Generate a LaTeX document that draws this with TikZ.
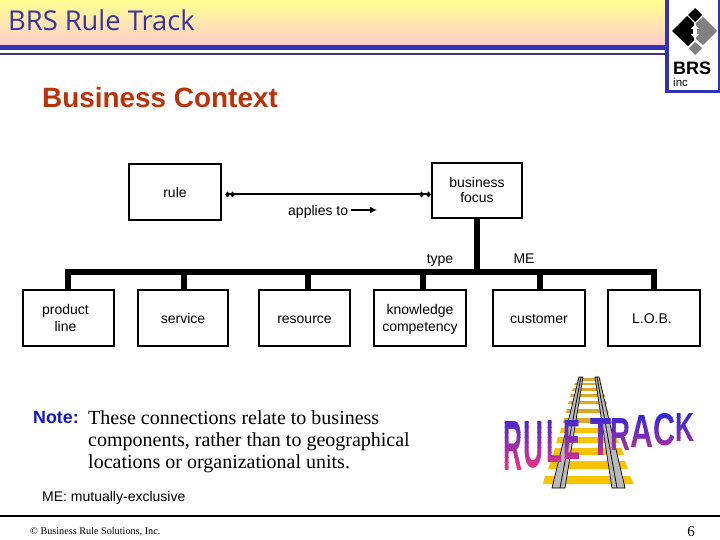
\documentclass[tikz,border=0pt]{standalone}
\usepackage{fontspec}
\usepackage{graphicx}
\setmainfont{Liberation Sans}
\newfontfamily\serifface{Liberation Serif}
\newfontfamily\titleface{Open Sans}
\usetikzlibrary{arrows.meta}
\definecolor{hdrblue}{RGB}{50,50,185}
\definecolor{hdrdark}{RGB}{60,50,140}
\definecolor{titleblue}{RGB}{60,50,160}
\definecolor{ctxred}{RGB}{190,50,10}
\definecolor{noteblue}{RGB}{20,20,200}
\definecolor{sleeperA}{RGB}{250,195,0}
\definecolor{sleeperB}{RGB}{215,170,40}
\definecolor{railgray}{RGB}{185,185,185}
\definecolor{logogray}{RGB}{128,128,128}
\definecolor{waTop}{RGB}{50,40,215}
\definecolor{waBot}{RGB}{240,50,130}
\newcommand{\ls}{\rule[-2.5pt]{0pt}{15pt}}
\newcommand{\wordletter}[5]{%
  \node[anchor=north west,inner sep=0pt,outer sep=0pt,font=\bfseries] at (#1,#2)
    {\resizebox{#3pt}{#4pt}{#5}};}
\tikzset{
  x=1pt,y=-1pt,
  box/.style={draw=black,line width=2pt,fill=white,minimum width=91pt,minimum height=56pt,inner sep=0pt,
    align=center,font=\fontsize{14}{15}\selectfont},
  lbl/.style={inner sep=0pt,font=\fontsize{14}{15}\selectfont},
  bus/.style={line width=6pt,line cap=butt},
  relation/.style={line width=2pt,{Diamond[length=5pt,width=6pt,sep=3pt]Diamond[length=5pt,width=6pt]}-{Diamond[length=5pt,width=6pt,sep=2pt]Diamond[length=5pt,width=6pt]}},
  dirarrow/.style={line width=2.5pt,-{Latex[length=7pt,width=7pt]}},
  sleeper/.style={fill=sleeperA,draw=none},
  sleepertop/.style={fill=sleeperB,draw=none},
  rail/.style={fill=railgray,draw=black,line width=.7pt},
}
\begin{document}
\begin{tikzpicture}
\useasboundingbox (0,0) rectangle (720,540);
\fill[white] (0,0) rectangle (720,540);
% header
\shade[top color={rgb,255:red,255;green,255;blue,145},bottom color={rgb,255:red,255;green,205;blue,205}] (0,0) rectangle (666,45);
\fill[hdrblue] (0,45) rectangle (666,50);
\fill[hdrdark] (0,53) rectangle (666,55);
\fill[hdrblue] (665,0) rectangle (669,93);
\fill[hdrblue] (665,90) rectangle (720,93);
\fill[hdrblue] (718,0) rectangle (720,93);
\node[anchor=base west,inner sep=0pt,text=titleblue,font=\titleface\fontsize{27.3}{29}\selectfont] (title) at (8,31) {BRS Rule Track};
% logo
\fill[black] (695,8) -- (702,15) -- (695,22) -- (688,15) -- cycle;
\fill[black] (672,31) -- (687,16) -- (694,23) -- (694,40) -- (688,46) -- cycle;
\fill[logogray] (703,17) -- (717,31) -- (703,45) -- (696,39) -- (696,23) -- cycle;
\fill[logogray] (695,42) -- (702,48) -- (695,55) -- (689,48) -- cycle;
\fill[white] (695,24) -- (699,29) -- (697,29) -- (697,34) -- (699,34) -- (695,39) -- (691,34) -- (693,34) -- (693,29) -- (691,29) -- cycle;
\node[anchor=base west,inner sep=0pt,font=\bfseries\fontsize{18}{19}\selectfont] (brs) at (673,75) {BRS};
\node[anchor=base west,inner sep=0pt,font=\fontsize{11.5}{12}\selectfont] (inc) at (673,87) {inc};
\node[anchor=base west,inner sep=0pt,text=ctxred,font=\bfseries\fontsize{27.9}{29}\selectfont] (context) at (42,108) {Business Context};
% boxes
\node[box,minimum width=92pt] (rule) at (175,192) {\ls rule};
\node[box,minimum width=90pt,minimum height=55pt] (focus) at (477,190.5) {\ls business\\\ls focus};
\node[box] (product) at (68.5,318) {\hspace*{-6pt}\ls product\\\hspace*{-6pt}\ls line};
\node[box,minimum width=90pt] (service) at (183,318) {\ls service};
\node[box] (resource) at (304.5,318) {\ls resource};
\node[box,minimum width=92pt] (knowledge) at (420,318) {\ls knowledge\\\ls competency};
\node[box,minimum width=92pt] (customer) at (539,318) {\ls customer};
\node[box,minimum width=92pt] (lob) at (654,318) {\hspace*{-4pt}\ls L.O.B.};
% connectors
\coordinate (busA) at (68,272);
\coordinate (busB) at (184,272);
\coordinate (busC) at (307.5,272);
\coordinate (busD) at (423,272);
\coordinate (busF) at (477,272);
\coordinate (busE) at (540,272);
\coordinate (busG) at (654,272);
\draw[bus] (65,272) -- (657,272);
\draw[bus] (busA) -- (busA |- product.north);
\draw[bus] (busB) -- (busB |- service.north);
\draw[bus] (busC) -- (busC |- resource.north);
\draw[bus] (busD) -- (busD |- knowledge.north);
\draw[bus] (busE) -- (busE |- customer.north);
\draw[bus] (busG) -- (busG |- lob.north);
\draw[bus] (focus.south) -- (busF);
\coordinate (linkA) at (rule.east |- 0,194.5);
\draw[relation] (rule.east |- linkA) -- (focus.west |- linkA);
\node[lbl,anchor=base west] (applies) at (288,215) {applies to};
\coordinate (dirS) at (351,210);
\coordinate (dirE) at (377,210);
\draw[dirarrow] (dirS) -- (dirE);
\node[lbl,anchor=base] (type) at (440,263) {type};
\node[lbl,anchor=base] (me) at (524,263) {ME};
% note
\node[anchor=base west,inner sep=0pt,text=noteblue,font=\bfseries\fontsize{17.8}{20}\selectfont] (note) at (33,423) {Note:};
\node[anchor=north west,inner sep=0pt,align=left,font=\serifface\fontsize{20}{22}\selectfont] (notetext) at (88,410) {These connections relate to business\\components, rather than to geographical\\locations or organizational units.};
\node[lbl,anchor=base west] (medef) at (42,501) {ME: mutually-exclusive};
% footer
\fill[black] (0,515) rectangle (720,517.3);
\node[anchor=base west,inner sep=0pt,font=\serifface\fontsize{10.2}{11}\selectfont] (copy) at (30,534) {© Business Rule Solutions, Inc.};
\node[anchor=base,inner sep=0pt,font=\serifface\fontsize{15}{16}\selectfont] (page) at (691,536) {6};
% track
\fill[sleeper] (545,476) -- (630,476) -- (634,484) -- (543,484) -- cycle;
\fill[sleeper] (551,461) -- (625,461) -- (628,469) -- (548,469) -- cycle;
\fill[sleeper] (555,448) -- (621,448) -- (624,455) -- (553,455) -- cycle;
\fill[sleeper] (558,437) -- (616,437) -- (619,443) -- (556,443) -- cycle;
\fill[sleeper] (561,428) -- (613,428) -- (615,433) -- (560,433) -- cycle;
\fill[sleepertop] (564,418) -- (610,418) -- (612,423) -- (563,423) -- cycle;
\fill[sleepertop] (567,409) -- (607,409) -- (609,413) -- (566,413) -- cycle;
\fill[sleepertop] (569,401) -- (606,401) -- (607,404) -- (568,404) -- cycle;
\fill[sleepertop] (571,394) -- (604,394) -- (605,397) -- (570,397) -- cycle;
\fill[sleepertop] (573,388) -- (602,388) -- (603,391) -- (572,391) -- cycle;
\fill[sleepertop] (575,383) -- (601,383) -- (602,385) -- (574,385) -- cycle;
\fill[sleepertop] (578,378) -- (600,378) -- (601,381) -- (577,381) -- cycle;
\draw[rail] (579,377) -- (583,377) -- (565,488) -- (552,488) -- cycle;
\draw[black,line width=.8pt] (581,377) -- (560,488);
\draw[rail] (595,377) -- (599,377) -- (625,488) -- (612,488) -- cycle;
\draw[black,line width=.8pt] (597,377) -- (617,488);
% word art: stacked colour bands, each clipped to one strip of the letters
\foreach \band in {0,...,11}{
  \pgfmathsetmacro{\mixp}{100*\band/11}
  \colorlet{wacur}{waBot!\mixp!waTop}
  \begin{scope}
    \clip (500,412+5*\band) rectangle (696,417.3+5*\band);
    \begin{scope}[color=wacur,text=wacur]
      \wordletter{503}{421}{19}{49}{R}
      \wordletter{523}{421}{20}{46}{U}
      \wordletter{546}{420}{16}{42}{L}
      \wordletter{563}{420}{17}{39}{E}
      \wordletter{590}{418}{21}{37}{T}
      \wordletter{610}{418}{20}{32}{R}
      \wordletter{630}{415}{23}{32}{A}
      \wordletter{653}{413}{22}{32}{C}
      \wordletter{675}{413}{19}{28}{K}
    \end{scope}
  \end{scope}
}
\end{tikzpicture}
\end{document}
